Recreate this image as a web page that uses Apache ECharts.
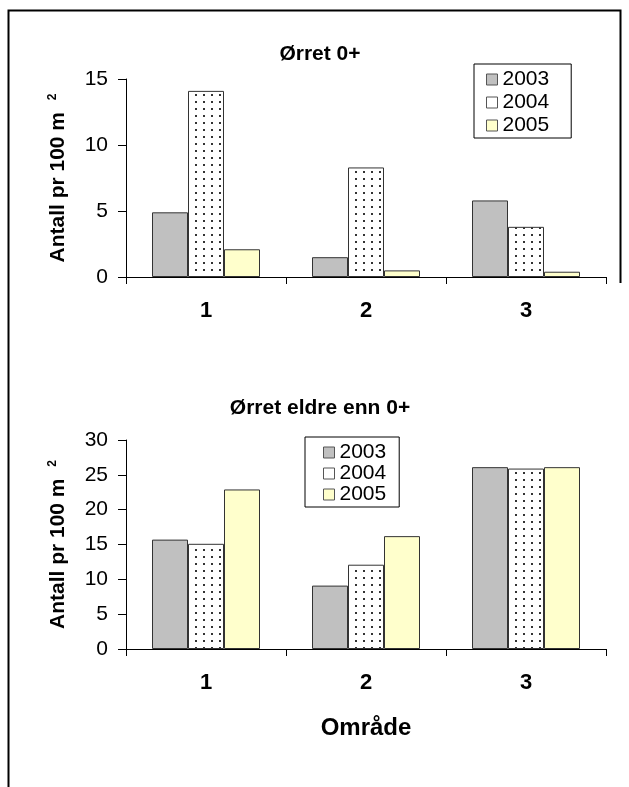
<!DOCTYPE html>
<html>
<head>
<meta charset="utf-8">
<script src="https://cdn.jsdelivr.net/npm/echarts@6/dist/echarts.min.js"></script>
<style>
html,body{margin:0;padding:0;background:#fff;}
#c{width:629px;height:787px;}
</style>
</head>
<body>
<div id="c"></div>
<script>
// ---- data ----
var categories = ['1', '2', '3'];
var years = ['2003', '2004', '2005'];
var yngel2003 = [4.9, 1.5, 5.8];
var yngel2004 = [14.1, 8.3, 3.8];
var yngel2005 = [2.1, 0.5, 0.4];
var eldre2003 = [15.7, 9.1, 26.1];
var eldre2004 = [15.1, 12.1, 25.9];
var eldre2005 = [22.9, 16.2, 26.1];
var topTicksMax = 15, topTicksStep = 5;
var botTicksMax = 30, botTicksStep = 5;

// dotted pattern
var pat = document.createElement('canvas');
pat.width = 8; pat.height = 7;
var pc = pat.getContext('2d');
pc.fillStyle = '#fff'; pc.fillRect(0, 0, 8, 7);
pc.fillStyle = '#333'; pc.fillRect(3, 3, 2, 2);

var FONT = '"Liberation Sans", Arial, sans-serif';
var fills = [
  { color: '#C0C0C0', borderColor: '#333', borderWidth: 1 },
  { color: { image: pat, repeat: 'repeat' }, borderColor: '#333', borderWidth: 1 },
  { color: '#FFFFCC', borderColor: '#333', borderWidth: 1 }
];
var legendIconStyles = [
  { color: '#C0C0C0', borderColor: '#555', borderWidth: 1 },
  { color: '#fff', borderColor: '#555', borderWidth: 1 },
  { color: '#FFFFCC', borderColor: '#555', borderWidth: 1 }
];

function yAx(gi, max, step) {
  return {
    type: 'value', gridIndex: gi, min: 0, max: max, interval: step,
    splitLine: { show: false },
    axisLine: { show: true, lineStyle: { color: '#000', width: 1 } },
    axisTick: { show: true, length: 8, lineStyle: { color: '#000' } },
    axisLabel: { color: '#000', fontFamily: FONT, fontSize: 21, margin: 18 },
    name: 'Antall pr 100 m {sup|2}',
    nameLocation: 'middle', nameRotate: 90, nameGap: 56,
    nameTextStyle: {
      color: '#000', fontFamily: FONT, fontSize: 21, fontWeight: 'bold',
      rich: { sup: { fontSize: 12, fontWeight: 'bold', fontFamily: FONT, color: '#000', verticalAlign: 'top', padding: [0, 0, 11, 6] } }
    }
  };
}
function xAx(gi, withName) {
  var a = {
    type: 'category', gridIndex: gi, data: categories,
    axisLine: { show: true, lineStyle: { color: '#000', width: 1 } },
    axisTick: { show: true, length: 7, alignWithLabel: false, lineStyle: { color: '#000' } },
    axisLabel: { color: '#000', fontFamily: FONT, fontSize: 22, fontWeight: 'bold', margin: 23 }
  };
  if (withName) {
    a.name = 'Område';
    a.nameLocation = 'middle';
    a.nameGap = 67;
    a.nameTextStyle = { color: '#000', fontFamily: FONT, fontSize: 24, fontWeight: 'bold' };
  }
  return a;
}
function legend(left, top, pad, gap) {
  return {
    orient: 'vertical', left: left, top: top, padding: pad, itemGap: gap,
    itemWidth: 11, itemHeight: 11, icon: 'rect',
    backgroundColor: '#fff', borderColor: '#000', borderWidth: 1, borderRadius: 0,
    textStyle: { color: '#000', fontFamily: FONT, fontSize: 21, lineHeight: 21 },
    data: years.map(function (y, i) { return { name: y, itemStyle: legendIconStyles[i] }; })
  };
}
var topSeries = [yngel2003, yngel2004, yngel2005];
var botSeries = [eldre2003, eldre2004, eldre2005];
var series = [];
years.forEach(function (y, i) {
  series.push({ name: y, type: 'bar', xAxisIndex: 0, yAxisIndex: 0, data: topSeries[i],
    barGap: '0%', barCategoryGap: '32.5%', itemStyle: fills[i], emphasis: { disabled: true } });
});
years.forEach(function (y, i) {
  series.push({ name: y, type: 'bar', xAxisIndex: 1, yAxisIndex: 1, data: botSeries[i],
    barGap: '0%', barCategoryGap: '32.5%', itemStyle: fills[i], emphasis: { disabled: true } });
});

var chart = echarts.init(document.getElementById('c'), null, { renderer: 'canvas' });
chart.setOption({
  animation: false,
  backgroundColor: '#fff',
  title: [
    { text: 'Ørret 0+', left: 320, top: 44, textAlign: 'center', padding: 0,
      textStyle: { fontFamily: FONT, fontSize: 21, fontWeight: 'bold', color: '#000' } },
    { text: 'Ørret eldre enn 0+', left: 320, top: 398, textAlign: 'center', padding: 0,
      textStyle: { fontFamily: FONT, fontSize: 21, fontWeight: 'bold', color: '#000' } }
  ],
  legend: [
    legend(474, 64, [5, 22, 2, 12], 2),
    legend(305, 437, [5, 13, 2, 18], 0)
  ],
  grid: [
    { left: 126, right: 23, top: 79, height: 198 },
    { left: 126, right: 23, top: 440, height: 209 }
  ],
  xAxis: [xAx(0, false), xAx(1, true)],
  yAxis: [yAx(0, topTicksMax, topTicksStep), yAx(1, botTicksMax, botTicksStep)],
  series: series,
  graphic: [
    { type: 'polyline', silent: true,
      shape: { points: [[8.5, 787], [8.5, 10.5], [620.5, 10.5], [620.5, 283]] },
      style: { stroke: '#000', lineWidth: 2, fill: null } }
  ]
});
</script>
</body>
</html>
